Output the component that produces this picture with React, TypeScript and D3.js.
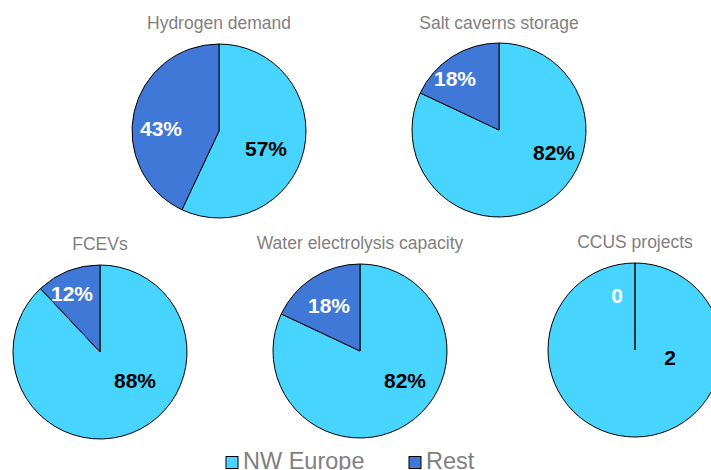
import { useEffect, useRef } from "react";
import * as d3 from "d3";

const WIDTH = 711;
const HEIGHT = 470;
const RADIUS = 87;

const SERIES = ["NW Europe", "Rest"];
const COLORS = ["#47d4ff", "#3f78d6"];
const LABEL_COLORS = ["#000000", "#ffffff"];

const TITLES = ["Hydrogen demand", "Salt caverns storage", "FCEVs", "Water electrolysis capacity", "CCUS projects"];
const NW_EUROPE = [57, 82, 88, 82, 2];
const REST = [43, 18, 12, 18, 0];
const PERCENT = [true, true, true, true, false];

// where each pie sits and how Excel nudged its labels (px from the centre)
const CENTERS = [[219, 131], [499, 130], [100, 352], [360, 351], [635, 350]];
const TITLE_Y = [29, 29, 250, 249, 248];
const LABEL_NUDGE = [
  [[47, 17], [-58, -3]],
  [[55, 22], [-44, -52]],
  [[35, 28], [-28, -59]],
  [[45, 29], [-31, -46]],
  [[35, 7], [-18, -55]],
];

export default function App() {
  const svgRef = useRef<SVGSVGElement>(null);

  useEffect(() => {
    const svg = d3.select(svgRef.current);
    svg.selectAll("*").remove();

    const pie = d3.pie<number>().sort(null).value((d) => d);
    const arc = d3.arc<d3.PieArcDatum<number>>().innerRadius(0).outerRadius(RADIUS);

    TITLES.forEach((title, i) => {
      const [cx, cy] = CENTERS[i];
      const g = svg.append("g").attr("transform", `translate(${cx},${cy})`);
      const slices = pie([NW_EUROPE[i], REST[i]]);

      g.selectAll("path")
        .data(slices)
        .join("path")
        .attr("d", arc)
        .attr("fill", (_, j) => COLORS[j])
        .attr("stroke", "#000")
        .attr("stroke-width", 1);

      g.selectAll("text.lbl")
        .data(slices)
        .join("text")
        .attr("class", "lbl")
        .attr("x", (_, j) => LABEL_NUDGE[i][j][0])
        .attr("y", (_, j) => LABEL_NUDGE[i][j][1])
        .attr("text-anchor", "middle")
        .attr("dominant-baseline", "central")
        .attr("font-family", "Liberation Sans, Arial, sans-serif")
        .attr("font-weight", "bold")
        .attr("font-size", 21)
        .attr("fill", (_, j) => LABEL_COLORS[j])
        .text((d) => (PERCENT[i] ? `${d.data}%` : `${d.data}`));

      svg.append("text")
        .attr("x", cx)
        .attr("y", TITLE_Y[i])
        .attr("text-anchor", "middle")
        .attr("font-family", "Liberation Sans, Arial, sans-serif")
        .attr("font-size", 17.5)
        .attr("fill", "#7f7f7f")
        .text(title);
    });

    // Legend (cut by the bottom edge, as in the original)
    const legendX = [226, 409];
    SERIES.forEach((name, j) => {
      svg.append("rect")
        .attr("x", legendX[j])
        .attr("y", 456.5)
        .attr("width", 12)
        .attr("height", 12)
        .attr("fill", COLORS[j])
        .attr("stroke", "#000")
        .attr("stroke-width", 1);
      svg.append("text")
        .attr("x", legendX[j] + 17)
        .attr("y", 468.5)
        .attr("font-family", "Liberation Sans, Arial, sans-serif")
        .attr("font-size", 23.5)
        .attr("fill", "#7f7f7f")
        .text(name);
    });
  }, []);

  return (
    <div style={{ position: "fixed", left: 0, top: 0, background: "#fff" }}>
      <svg ref={svgRef} width={WIDTH} height={HEIGHT} style={{ display: "block" }} />
    </div>
  );
}
